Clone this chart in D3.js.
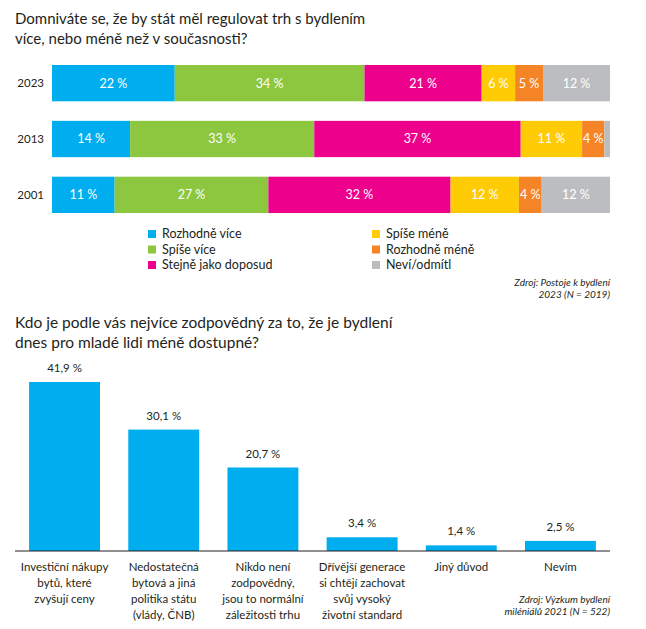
<!DOCTYPE html>
<html><head><meta charset="utf-8">
<script src="https://cdn.jsdelivr.net/npm/d3@7"></script>
<style>
body{margin:0;background:#fff;}
svg{display:block;font-family:Lato, "Open Sans", sans-serif;}
</style></head>
<body>
<svg id="c" width="646" height="629"></svg>
<script>
// ---- Data: chart 1 ----
const years = ["2023", "2013", "2001"];
const answers = ["Rozhodně více", "Spíše více", "Stejně jako doposud", "Spíše méně", "Rozhodně méně", "Neví/odmítl"];
const answerColors = ["#00AEEF", "#8DC63F", "#EC008C", "#FFCB05", "#F58426", "#BCBDC0"];
const values2023 = [22, 34, 21, 6, 5, 12];
const values2013 = [14, 33, 37, 11, 4, 1];
const values2001 = [11, 27, 32, 12, 4, 12];
const labels2013Hidden = [false, false, false, false, false, true];

// ---- Data: chart 2 ----
const causes = [
  ["Investiční nákupy", "bytů, které", "zvyšují ceny"],
  ["Nedostatečná", "bytová a jiná", "politika státu", "(vlády, ČNB)"],
  ["Nikdo není", "zodpovědný,", "jsou to normální", "záležitosti trhu"],
  ["Dřívější generace", "si chtějí zachovat", "svůj vysoký", "životní standard"],
  ["Jiný důvod"],
  ["Nevím"]
];
const causeValues = [41.9, 30.1, 20.7, 3.4, 1.4, 2.5];

const svg = d3.select("#c");
const dark = "#231f20";

// Titles
const t1 = svg.append("text").attr("x", 15).attr("fill", dark).attr("font-size", 15);
t1.append("tspan").attr("x", 15).attr("y", 24).text("Domniváte se, že by stát měl regulovat trh s bydlením");
t1.append("tspan").attr("x", 15).attr("y", 44).text("více, nebo méně než v současnosti?");

// Chart 1
const rows = [values2023, values2013, values2001];
const y1 = d3.scaleBand().domain(years).range([65, 213]).paddingInner(0.35).paddingOuter(0);
const g1 = svg.append("g");
years.forEach((yr, i) => {
  const vals = rows[i];
  const total = d3.sum(vals);
  const x = d3.scaleLinear().domain([0, total]).range([52, 610]);
  let acc = 0;
  vals.forEach((v, j) => {
    const x0 = x(acc), x1 = x(acc + v);
    acc += v;
    g1.append("rect").attr("x", x0).attr("y", y1(yr)).attr("width", x1 - x0).attr("height", y1.bandwidth()).attr("fill", answerColors[j]);
    if (!(yr === "2013" && labels2013Hidden[j])) {
      g1.append("text").attr("x", (x0 + x1) / 2).attr("y", y1(yr) + y1.bandwidth() / 2).attr("dy", "0.35em")
        .attr("text-anchor", "middle").attr("fill", "#fff").attr("font-size", 12.5).text(v + " %");
    }
  });
  g1.append("text").attr("x", 44).attr("y", y1(yr) + y1.bandwidth() / 2).attr("dy", "0.35em")
    .attr("text-anchor", "end").attr("fill", dark).attr("font-size", 11.5).text(yr);
});

// Legend
const lg = svg.append("g");
answers.forEach((a, j) => {
  const col = j < 3 ? 0 : 1, row = j % 3;
  const lx = col === 0 ? 148 : 372, ly = 234 + row * 15.5;
  lg.append("rect").attr("x", lx).attr("y", ly - 4).attr("width", 8).attr("height", 8).attr("fill", answerColors[j]);
  lg.append("text").attr("x", lx + 14).attr("y", ly).attr("dy", "0.35em").attr("fill", dark).attr("font-size", 12.5).text(a);
});
const s1 = svg.append("text").attr("text-anchor", "end").attr("fill", dark).attr("font-size", 10).attr("font-style", "italic");
s1.append("tspan").attr("x", 610).attr("y", 286).text("Zdroj: Postoje k bydlení");
s1.append("tspan").attr("x", 610).attr("y", 298).text("2023 (N = 2019)");

// Title 2
const t2 = svg.append("text").attr("fill", dark).attr("font-size", 15.5);
t2.append("tspan").attr("x", 15).attr("y", 328).text("Kdo je podle vás nejvíce zodpovědný za to, že je bydlení");
t2.append("tspan").attr("x", 15).attr("y", 348).text("dnes pro mladé lidi méně dostupné?");

// Chart 2
const x2 = d3.scaleBand().domain(d3.range(causes.length)).range([15, 610]).paddingInner(0.285).paddingOuter(0.142);
const y2 = d3.scaleLinear().domain([0, 41.9]).range([551, 382]);
const g2 = svg.append("g");
causeValues.forEach((v, i) => {
  g2.append("rect").attr("x", x2(i)).attr("y", y2(v)).attr("width", x2.bandwidth()).attr("height", y2(0) - y2(v)).attr("fill", "#00AEEF");
  g2.append("text").attr("x", x2(i) + x2.bandwidth() / 2).attr("y", y2(v) - 10).attr("text-anchor", "middle")
    .attr("fill", dark).attr("font-size", 11.5).text(d3.format(".1f")(v).replace(".", ",") + " %");
  const tl = g2.append("text").attr("text-anchor", "middle").attr("fill", dark).attr("font-size", 11.5);
  causes[i].forEach((line, k) => {
    tl.append("tspan").attr("x", x2(i) + x2.bandwidth() / 2).attr("y", 571 + k * 16).text(line);
  });
});
g2.append("line").attr("x1", 15).attr("x2", 610).attr("y1", y2(0)).attr("y2", y2(0)).attr("stroke", dark).attr("stroke-width", 1);

const s2 = svg.append("text").attr("text-anchor", "end").attr("fill", dark).attr("font-size", 10).attr("font-style", "italic");
s2.append("tspan").attr("x", 610).attr("y", 603).text("Zdroj: Výzkum bydlení");
s2.append("tspan").attr("x", 610).attr("y", 615).text("miléniálů 2021 (N = 522)");
</script>
</body></html>
